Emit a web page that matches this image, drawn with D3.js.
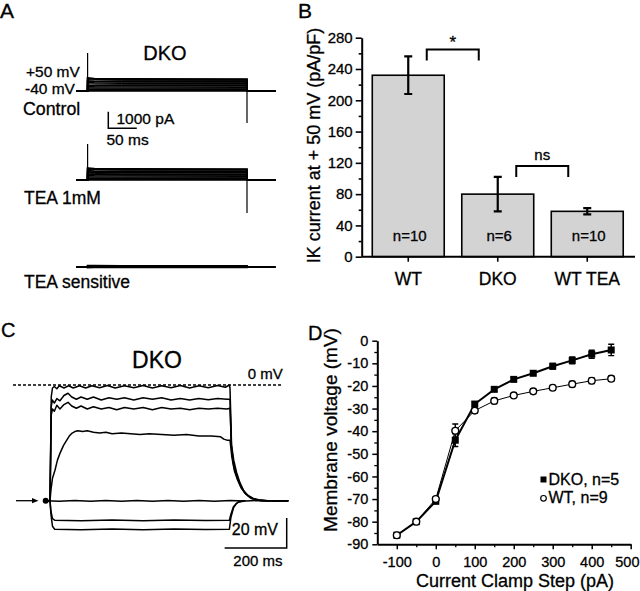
<!DOCTYPE html>
<html><head><meta charset="utf-8">
<script src="https://cdn.jsdelivr.net/npm/d3@7"></script>
<style>
body{margin:0;background:#fff}
svg{display:block}
text{font-family:"Liberation Sans",Arial,Helvetica,sans-serif;fill:#000;stroke:#000;stroke-width:0.3px}
</style>
</head><body>
<svg id="fig" width="640" height="591"></svg>
<script>
// ================= DATA =================
// Panel A: current traces (pA), steady levels per voltage step
const aConditions = ["Control", "TEA 1mM", "TEA sensitive"];
const aControlLevels = [0, 25, 60, 110, 170, 240, 320, 400, 480, 560, 640, 700, 730];
const aTEALevels = [0, 25, 60, 110, 170, 240, 310, 380, 450, 520, 590, 640, 665];
const aSensitiveLevels = [-30, 0, 20, 40, 60, 75];
const aOnPeak = [2290, 2170, 60];      // capacitive transient at step onset (pA)
const aOffPeak = [-1930, -1990, -40];  // transient at step offset (pA)
const aStepMs = [0, 280];              // step start / end (ms)
const aSweepMs = [-20, 330];           // sweep start / end (ms)

// Panel B: IK current at +50 mV (pA/pF)
const bGroups = ["WT", "DKO", "WT TEA"];
const bMeans = [232, 80, 58];
const bErr = [24, 22, 4];
const bN = ["n=10", "n=6", "n=10"];
const bTicks = [0, 40, 80, 120, 160, 200, 240, 280];
const bSig = [["WT", "DKO", "*", 265], ["DKO", "WT TEA", "ns", 116]];

// Panel C: voltage traces (ms, mV)
const cTraceTop = [[-13,-77],[0,-77],[2,-45],[4,-8],[8,-2],[14,-1],[22,-2.5],[30,-0.5],[45,-2],[60,-0.5],[75,-2],[95,-0.5],[115,-2],[135,-0.5],[160,-1.8],[185,-0.3],[210,-2],[240,-0.5],[270,-1.8],[300,-0.3],[330,-2],[360,-0.5],[390,-1.8],[420,-0.3],[450,-2],[480,-0.5],[510,-1.8],[540,-0.3],[565,-1.5],[578,0],[580,-2],[585,-40],[592,-50],[601,-58],[612,-65],[623,-70],[638,-73.5],[655,-75.5],[675,-76.5],[700,-77],[768,-77]];
const cTrace2 = [[-13,-77],[0,-77],[2,-45],[4,-14],[8,-10],[14,-12],[22,-9],[32,-10.5],[45,-7],[58,-5.5],[70,-8],[85,-9.5],[100,-8],[120,-9.5],[140,-8],[165,-10],[190,-8.5],[215,-9.5],[240,-8.5],[270,-10],[300,-8.5],[330,-9.5],[360,-8.5],[390,-10],[420,-9],[450,-10],[480,-9],[510,-9.8],[540,-9],[570,-9.5],[580,-9.5],[584,-40],[591,-52],[600,-59],[612,-66],[625,-71],[640,-74],[658,-76],[680,-77],[768,-77]];
const cTrace3 = [[-13,-77],[0,-77],[2,-50],[4,-20],[8,-16],[14,-17.5],[22,-13.5],[32,-16],[45,-13],[58,-11.5],[70,-14],[85,-15.5],[100,-14],[120,-16],[140,-14.5],[165,-16],[190,-15],[215,-16.5],[240,-15],[270,-16],[300,-15],[330,-16.5],[360,-15],[390,-16],[420,-15.5],[450,-16.5],[480,-15.5],[510,-16],[540,-15.5],[570,-16],[580,-15.5],[585,-42],[592,-54],[602,-61],[614,-67],[628,-72],[645,-75],[665,-76.5],[690,-77],[768,-77]];
const cTrace4 = [[-13,-77],[0,-77],[3,-70],[8,-62],[16,-56.7],[24,-50],[32,-45.5],[44,-40],[54,-36.7],[62,-34],[70,-32.2],[80,-31],[90,-30.5],[105,-31],[120,-30.5],[140,-31.5],[160,-32],[180,-31.5],[200,-32.5],[230,-32],[260,-32.5],[290,-33],[320,-32.5],[360,-33],[400,-33.5],[440,-33],[480,-34],[520,-34],[550,-34.5],[560,-36],[570,-36.7],[580,-36.7],[586,-48],[594,-57],[604,-63],[616,-68.5],[631,-72.5],[649,-75.5],[670,-76.5],[700,-77],[768,-77]];
const cTraceRest = [[-13,-77],[30,-77.3],[80,-76.8],[130,-77.3],[180,-76.8],[230,-77.3],[280,-76.8],[330,-77.3],[380,-76.8],[430,-77.3],[480,-76.8],[530,-77.3],[580,-76.9],[630,-77.2],[680,-76.8],[730,-77.2],[768,-77]];
const cTrace6 = [[-13,-77],[0,-77],[3,-84],[8,-89],[15,-90],[100,-90.3],[200,-89.8],[300,-90.3],[400,-89.8],[500,-90.2],[578,-90],[583,-86],[591,-81],[600,-79],[607,-77.8],[625,-77]];
const cTrace7 = [[-13,-77],[0,-77],[3,-86],[8,-94],[15,-96],[100,-96.3],[200,-95.8],[300,-96.3],[400,-95.8],[500,-96.2],[578,-96],[583,-88],[591,-82],[600,-79],[609,-77.8],[630,-77]];
const cTraces = [cTraceTop, cTrace2, cTrace3, cTrace4, cTraceRest, cTrace6, cTrace7];

// Panel D: current clamp steps
const dCurrents = [-100, -50, 0, 50, 100, 150, 200, 250, 300, 350, 400, 450];
const dDKO = [-86, -80, -71, -44, -28, -21.5, -17.1, -14.4, -11.3, -8.7, -6.0, -4.1];
const dDKOerr = [0.8, 0.5, 1, 2.8, 1, 0.8, 0.8, 0.8, 1.2, 1.5, 1.8, 2.5];
const dWT = [-86, -80, -70, -39.8, -30.9, -26.6, -24.2, -22.4, -20.8, -19.2, -17.7, -16.8];
const dWTerr = [0.6, 0.5, 0.8, 3, 1.2, 1.2, 0.8, 1, 1, 1.2, 1.2, 1.2];
const dXTicks = [-100, 0, 100, 200, 300, 400, 500];
const dYTicks = [0, -10, -20, -30, -40, -50, -60, -70, -80, -90];
const dLegend = ["DKO, n=5", "WT, n=9"];

// ================= DRAW =================
const svg = d3.select("#fig");
function T(x, y, s, size, anchor, g) {
  return (g || svg).append("text").attr("x", x).attr("y", y).attr("font-size", size)
    .attr("text-anchor", anchor || "start").text(s);
}
// panel letters
T(0, 17.5, "A", 21); T(298, 18, "B", 21); T(1, 337, "C", 20); T(308, 340, "D", 20);

// ---------- Panel A ----------
const aX = d3.scaleLinear().domain([0, 280]).range([87.6, 247]);
const aY = d3.scaleLinear().domain([0, 1000]).range([0, -16.6]);
const aBase = [91, 180, 267];
const aLevels = [aControlLevels, aTEALevels, aSensitiveLevels];
const aLine = d3.line().x(d => aX(d[0])).y(d => aY(d[1]));
aConditions.forEach((c, ci) => {
  const g = svg.append("g").attr("transform", `translate(0,${aBase[ci]})`);
  aLevels[ci].forEach((lv, li) => {
    const pts = [[aSweepMs[0], 0], [aStepMs[0], 0], [aStepMs[0], lv * 1.08], [12, lv * 1.03], [60, lv], [aStepMs[1], lv * 0.99], [aStepMs[1], 0], [aSweepMs[1], 0]];
    g.append("path").attr("d", aLine(pts)).attr("fill", "none").attr("stroke", "#000")
      .attr("stroke-width", li % 3 === 1 ? 1.0 : 1.7);
  });
  g.append("line").attr("x1", aX(aStepMs[0])).attr("x2", aX(aStepMs[0])).attr("y1", 0).attr("y2", aY(aOnPeak[ci])).attr("stroke", "#000").attr("stroke-width", 1.2);
  g.append("line").attr("x1", aX(aStepMs[1])).attr("x2", aX(aStepMs[1])).attr("y1", 0).attr("y2", aY(aOffPeak[ci])).attr("stroke", "#000").attr("stroke-width", 1.2);
});
T(165, 59.5, "DKO", 20, "middle");
T(26, 76.7, "+50 mV", 15.5);
T(25, 94, "-40 mV", 15.5);
T(23, 115, "Control", 17.8);
T(24, 204, "TEA 1mM", 17.5);
T(24, 287.5, "TEA sensitive", 17.5);
// scale bar A
{
  const x0 = 108.3, y0 = 128.3;
  const h = -aY(1000), w = aX(50) - aX(0);
  svg.append("path").attr("d", `M${x0},${y0 - h}V${y0}H${x0 + w}`).attr("fill", "none").attr("stroke", "#000").attr("stroke-width", 1.5);
  T(116.5, 123.5, "1000 pA", 15.5);
  T(106.5, 145, "50 ms", 15.5);
}

// ---------- Panel B ----------
const bY = d3.scaleLinear().domain([0, 280]).range([256.7, 37.7]);
const bX = d3.scaleBand().domain(bGroups).range([363.5, 632]).paddingInner(0.196).paddingOuter(0.098);
const gB = svg.append("g");
gB.selectAll("rect.bar").data(bGroups).join("rect").attr("class", "bar")
  .attr("x", d => bX(d)).attr("y", (d, i) => bY(bMeans[i]))
  .attr("width", bX.bandwidth()).attr("height", (d, i) => bY(0) - bY(bMeans[i]))
  .attr("fill", "#d3d3d3").attr("stroke", "#000").attr("stroke-width", 1.6);
bGroups.forEach((g, i) => {
  const cx = bX(g) + bX.bandwidth() / 2;
  const y1 = bY(bMeans[i] + bErr[i]), y2 = bY(bMeans[i] - bErr[i]);
  gB.append("path").attr("d", `M${cx - 4},${y1}H${cx + 4}M${cx},${y1}V${y2}M${cx - 4},${y2}H${cx + 4}`)
    .attr("fill", "none").attr("stroke", "#000").attr("stroke-width", 2.2);
  T(cx + 1.5, 241, bN[i], 15, "middle", gB);
});
// y axis
const bMinor = bTicks.slice(1).map(t => t - 20);
const bAxis = gB.append("g").attr("transform", "translate(361.7,0)")
  .call(d3.axisLeft(bY).tickValues(bTicks).tickSize(6).tickPadding(3).tickSizeOuter(0).tickFormat(d => String(d)));
bAxis.select(".domain").attr("stroke-width", 2);
bAxis.selectAll(".tick line").attr("stroke-width", 1.6);
bAxis.selectAll("text").attr("font-size", 15).attr("font-family", '"Liberation Sans",Arial,sans-serif').attr("fill", "#000");
const bAxisMinor = gB.append("g").attr("transform", "translate(361.7,0)")
  .call(d3.axisLeft(bY).tickValues(bMinor).tickSize(3).tickSizeOuter(0).tickFormat(""));
bAxisMinor.select(".domain").remove();
bAxisMinor.selectAll(".tick line").attr("stroke-width", 1.6);
// x axis
gB.append("line").attr("x1", 361.7).attr("x2", 635).attr("y1", bY(0)).attr("y2", bY(0)).attr("stroke", "#000").attr("stroke-width", 2);
const bXAxis = gB.append("g").attr("transform", `translate(0,${bY(0)})`)
  .call(d3.axisBottom(bX).tickSize(5).tickPadding(10.5).tickSizeOuter(0));
bXAxis.select(".domain").remove();
bXAxis.selectAll(".tick line").attr("stroke-width", 1.6);
bXAxis.selectAll("text").attr("font-size", 17.5).attr("font-family", '"Liberation Sans",Arial,sans-serif').attr("fill", "#000");
// significance
bSig.forEach(([a, b, lab, yv], i) => {
  const xa = bX(a) + bX.bandwidth() / 2 + 18.5, xb = bX(b) + bX.bandwidth() / 2 - 19;
  const yy = bY(yv);
  gB.append("path").attr("d", `M${xa},${yy + 11}V${yy}H${xb}V${yy + 11}`).attr("fill", "none").attr("stroke", "#000").attr("stroke-width", 2);
  T((xa + xb) / 2, lab === "*" ? yy - 1 : yy - 6, lab, lab === "*" ? 17 : 15, "middle", gB);
});
svg.append("text").attr("transform", "translate(320,145.5) rotate(-90)").attr("text-anchor", "middle")
  .attr("font-size", 18).text("IK current at + 50 mV (pA/pF)");

// ---------- Panel C ----------
const cX = d3.scaleLinear().domain([0, 580]).range([50, 230]);
const cY = d3.scaleLinear().domain([-77, 0]).range([500.7, 385]);
const cLine = d3.line().x(d => cX(d[0])).y(d => cY(d[1]));
svg.append("line").attr("x1", 13).attr("x2", 283).attr("y1", cY(0)).attr("y2", cY(0))
  .attr("stroke", "#000").attr("stroke-width", 1.3).attr("stroke-dasharray", "3,2");
cTraces.forEach(tr => {
  svg.append("path").attr("d", cLine(tr)).attr("fill", "none").attr("stroke", "#000").attr("stroke-width", 1.5).attr("stroke-linejoin", "round");
});
// arrow + dot
svg.append("line").attr("x1", 16).attr("x2", 34).attr("y1", cY(-77)).attr("y2", cY(-77)).attr("stroke", "#000").attr("stroke-width", 1.3);
svg.append("path").attr("d", `M38.5,${cY(-77)}L32,${cY(-77) - 2.6}L32,${cY(-77) + 2.6}Z`).attr("fill", "#000");
svg.append("circle").attr("cx", 45.7).attr("cy", cY(-77)).attr("r", 3).attr("fill", "#000");
T(157, 368, "DKO", 23, "middle");
T(282.7, 379, "0 mV", 15, "end");
{
  const x1 = 286.7, yb = 548;
  const h = cY(-77) - cY(-57), w = cX(200) - cX(0);
  svg.append("path").attr("d", `M${x1},${yb - h}V${yb}H${x1 - w}`).attr("fill", "none").attr("stroke", "#000").attr("stroke-width", 1.5);
  T(278, 535, "20 mV", 16, "end");
  T(233.3, 565.7, "200 ms", 15);
}

// ---------- Panel D ----------
const dX = d3.scaleLinear().domain([-150, 500]).range([377.3, 630.7]);
const dY = d3.scaleLinear().domain([-90, 0]).range([544.3, 340.7]);
const gD = svg.append("g");
const dYAx = gD.append("g").attr("transform", `translate(${dX(-150)},0)`)
  .call(d3.axisLeft(dY).tickValues(dYTicks).tickSize(5).tickPadding(4).tickSizeOuter(0).tickFormat(d => String(d)));
dYAx.select(".domain").attr("stroke-width", 2);
dYAx.selectAll(".tick line").attr("stroke-width", 1.5);
dYAx.selectAll("text").attr("font-size", 14.5).attr("font-family", '"Liberation Sans",Arial,sans-serif').attr("fill", "#000");
const dYMin = gD.append("g").attr("transform", `translate(${dX(-150)},0)`)
  .call(d3.axisLeft(dY).tickValues(dYTicks.slice(1).map(t => t + 5)).tickSize(3).tickSizeOuter(0).tickFormat(""));
dYMin.select(".domain").remove();
dYMin.selectAll(".tick line").attr("stroke-width", 1.3);
const dXAx = gD.append("g").attr("transform", `translate(0,${dY(-90)})`)
  .call(d3.axisBottom(dX).tickValues(dXTicks).tickSize(5).tickPadding(7).tickSizeOuter(0).tickFormat(d => String(d)));
dXAx.select(".domain").attr("stroke-width", 2);
dXAx.selectAll(".tick line").attr("stroke-width", 1.5);
dXAx.selectAll("text").attr("font-size", 14.5).attr("font-family", '"Liberation Sans",Arial,sans-serif').attr("fill", "#000");
// keep the last label inside the picture
dXAx.selectAll(".tick text").filter(d => d === 500).attr("text-anchor", "end").attr("x", 640 - dX(500) - 1);
const dXMin = gD.append("g").attr("transform", `translate(0,${dY(-90)})`)
  .call(d3.axisBottom(dX).tickValues(dXTicks.slice(1).map(t => t - 50)).tickSize(3).tickSizeOuter(0).tickFormat(""));
dXMin.select(".domain").remove();
dXMin.selectAll(".tick line").attr("stroke-width", 1.3);

const dLine = d3.line().x(d => dX(d[0])).y(d => dY(d[1]));
const wtPts = dCurrents.map((c, i) => [c, dWT[i], dWTerr[i]]);
const dkoPts = dCurrents.map((c, i) => [c, dDKO[i], dDKOerr[i]]);
gD.append("path").attr("d", dLine(wtPts)).attr("fill", "none").attr("stroke", "#000").attr("stroke-width", 1);
gD.append("path").attr("d", dLine(dkoPts)).attr("fill", "none").attr("stroke", "#000").attr("stroke-width", 2);
[wtPts, dkoPts].forEach(pts => pts.forEach(p => {
  const x = dX(p[0]), y1 = dY(p[1] + p[2]), y2 = dY(p[1] - p[2]);
  gD.append("path").attr("d", `M${x - 3},${y1}H${x + 3}M${x},${y1}V${y2}M${x - 3},${y2}H${x + 3}`).attr("fill", "none").attr("stroke", "#000").attr("stroke-width", 1.4);
}));
gD.selectAll("rect.dko").data(dkoPts).join("rect").attr("class", "dko")
  .attr("x", d => dX(d[0]) - 3.5).attr("y", d => dY(d[1]) - 3.5).attr("width", 7).attr("height", 7).attr("fill", "#000");
gD.selectAll("circle.wt").data(wtPts).join("circle").attr("class", "wt")
  .attr("cx", d => dX(d[0])).attr("cy", d => dY(d[1])).attr("r", 3.4).attr("fill", "#fff").attr("stroke", "#000").attr("stroke-width", 1.4);
// legend
gD.append("rect").attr("x", 540.5).attr("y", 476.5).attr("width", 6).attr("height", 6).attr("fill", "#000");
T(548.5, 485, dLegend[0], 16, "start", gD);
gD.append("circle").attr("cx", 543.5).attr("cy", 498.3).attr("r", 2.8).attr("fill", "#fff").attr("stroke", "#000").attr("stroke-width", 1.2);
T(548.5, 503, dLegend[1], 16, "start", gD);
svg.append("text").attr("transform", "translate(337,430) rotate(-90)").attr("text-anchor", "middle")
  .attr("font-size", 19).text("Membrane voltage (mV)");
T(515, 587, "Current Clamp Step (pA)", 18, "middle");
</script>
</body></html>
